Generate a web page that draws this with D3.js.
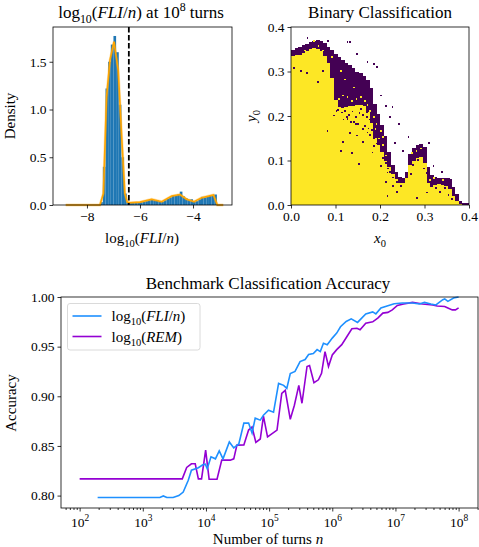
<!DOCTYPE html>
<html>
<head>
<meta charset="utf-8">
<script src="https://cdn.jsdelivr.net/npm/d3@7"></script>
<style>
  body { margin: 0; background: #fff; }
  svg, text, tspan { font-family: "Liberation Serif", serif; }
  .tick text { font-size: 13.5px; fill: #000; }
  .tick line { stroke: #000; stroke-width: 0.8; }
</style>
</head>
<body>
<div id="wrapper"></div>
<script>

// ---- data: histogram of log10(FLI/n) ----
const binWidth = 0.1
const binStarts = [-7.5, -7.4, -7.3, -7.2, -7.1, -7.0, -6.9, -6.8, -6.7, -6.6, -6.5,
  -6.4, -6.3, -6.2, -6.1, -6.0, -5.9, -5.8, -5.7, -5.6, -5.5, -5.4, -5.3, -5.2, -5.1,
  -5.0, -4.9, -4.8, -4.7, -4.6, -4.5, -4.4, -4.3, -4.2, -4.1, -4.0, -3.9, -3.8, -3.7,
  -3.6, -3.5, -3.4, -3.3, -3.2]
const binDensity = [0.03, 0.4, 1.22, 1.5, 1.68, 1.77, 1.6, 1.05, 0.5, 0.12, 0.03,
  0.03, 0.025, 0.025, 0.03, 0.03, 0.035, 0.04, 0.05, 0.055, 0.05, 0.05, 0.04, 0.035, 0.05,
  0.065, 0.08, 0.095, 0.1, 0.11, 0.14, 0.09, 0.07, 0.055, 0.06, 0.035, 0.04, 0.06, 0.085,
  0.08, 0.09, 0.095, 0.1, 0.11]
const kdeX = [-8.8, -7.51, -7.38, -7.26, -7.13, -6.98, -6.82, -6.69, -6.57, -6.48, -6.38,
  -6.0, -5.56, -5.18, -4.8, -4.49, -4.24, -3.96, -3.67, -3.23, -3.08, -2.86]
const kdeY = [0, 0, 0.12, 1.13, 1.52, 1.71, 1.41, 0.715, 0.12, 0.03, 0.024,
  0.03, 0.06, 0.035, 0.094, 0.11, 0.06, 0.035, 0.077, 0.105, 0, 0]
const threshold = -6.42
const histXTicks = [-8, -6, -4]
const histYTicks = [0, 0.5, 1.0, 1.5]

// ---- data: binary classification map (columns of width 0.008) ----
const colWidth = 0.008
const colX = [0.000, 0.008, 0.016, 0.024, 0.032, 0.040, 0.048, 0.056, 0.064, 0.072,
  0.080, 0.088, 0.096, 0.104, 0.112, 0.120, 0.128, 0.136, 0.144, 0.152,
  0.160, 0.168, 0.176, 0.184, 0.192, 0.200, 0.208, 0.216, 0.224, 0.232,
  0.240, 0.248, 0.256, 0.264, 0.272, 0.280, 0.288, 0.296, 0.304, 0.312,
  0.320, 0.328, 0.336, 0.344, 0.352, 0.360, 0.368, 0.376, 0.384, 0.392]
const stableTop = [0.334, 0.336, 0.338, 0.342, 0.346, 0.350, 0.352, 0.350, 0.345, 0.335,
  0.320, 0.285, 0.235, 0.220, 0.218, 0.220, 0.222, 0.222, 0.225, 0.225,
  0.222, 0.210, 0.185, 0.150, 0.135, 0.120, 0.100, 0.085, 0.070, 0.058,
  0.050, 0.050, 0.060, 0.090, 0.100, 0.105, 0.108, 0.095, 0.050, 0.040,
  0.045, 0.048, 0.045, 0.042, 0.035, 0.020, 0.010, 0.002, 0.000, 0.000]
const unstableTop = [0.348, 0.352, 0.356, 0.360, 0.362, 0.366, 0.368, 0.370, 0.368, 0.364,
  0.356, 0.348, 0.340, 0.332, 0.326, 0.320, 0.314, 0.308, 0.300, 0.296,
  0.290, 0.280, 0.262, 0.228, 0.205, 0.180, 0.155, 0.118, 0.090, 0.075,
  0.062, 0.060, 0.075, 0.115, 0.128, 0.135, 0.138, 0.130, 0.085, 0.068,
  0.063, 0.060, 0.060, 0.060, 0.058, 0.040, 0.024, 0.010, 0.004, 0.004]
const cell = 0.004
// stray unstable cells (inside the stable core, the mixed fringe and the empty region)
const strayX = [0.020, 0.034, 0.058, 0.095, 0.125, 0.147, 0.170, 0.181, 0.200, 0.215,
  0.267, 0.245, 0.304, 0.144, 0.110, 0.080, 0.005, 0.070, 0.100, 0.130, 0.160, 0.150,
  0.135, 0.185, 0.115, 0.212, 0.252, 0.282, 0.215,
  0.125, 0.131, 0.147, 0.170, 0.192, 0.185, 0.200, 0.212, 0.226, 0.231, 0.308, 0.338,
  0.353, 0.035, 0.082, 0.240, 0.262, 0.220, 0.250, 0.318,
  0.104, 0.112, 0.120, 0.128, 0.136, 0.144, 0.152, 0.160, 0.168, 0.176, 0.116, 0.132,
  0.148, 0.164, 0.172, 0.180, 0.188, 0.196, 0.184, 0.192, 0.200, 0.208, 0.204, 0.212,
  0.216, 0.176, 0.160, 0.140, 0.124, 0.156, 0.168, 0.184, 0.196, 0.204, 0.212, 0.220,
  0.228, 0.236, 0.264, 0.272, 0.284, 0.296, 0.304, 0.312, 0.324, 0.332, 0.344, 0.352,
  0.360, 0.236, 0.228]
const strayY = [0.300, 0.295, 0.274, 0.199, 0.191, 0.154, 0.161, 0.116, 0.086, 0.071,
  0.068, 0.041, 0.026, 0.180, 0.120, 0.165, 0.305, 0.300, 0.210, 0.160, 0.140, 0.090,
  0.115, 0.130, 0.140, 0.050, 0.056, 0.013, 0.019,
  0.364, 0.364, 0.338, 0.320, 0.308, 0.315, 0.244, 0.220, 0.218, 0.137, 0.137, 0.073,
  0.056, 0.374, 0.366, 0.180, 0.150, 0.195, 0.120, 0.085,
  0.212, 0.206, 0.210, 0.200, 0.208, 0.196, 0.204, 0.200, 0.196, 0.190, 0.190, 0.184,
  0.180, 0.176, 0.170, 0.166, 0.160, 0.150, 0.148, 0.136, 0.128, 0.120, 0.104, 0.092,
  0.080, 0.156, 0.168, 0.184, 0.196, 0.214, 0.206, 0.184, 0.172, 0.140, 0.112, 0.072,
  0.060, 0.050, 0.096, 0.088, 0.100, 0.080, 0.070, 0.048, 0.036, 0.028, 0.036, 0.020,
  0.012, 0.028, 0.040]
// stable cells scattered inside the unstable band
const speckX = [0.105, 0.115, 0.125, 0.135, 0.145, 0.110, 0.090, 0.060, 0.070, 0.030,
  0.155, 0.165, 0.170, 0.175, 0.185, 0.190, 0.200, 0.205, 0.270, 0.280, 0.290, 0.310,
  0.320, 0.340, 0.120, 0.140, 0.050, 0.188, 0.196, 0.204, 0.212]
const speckY = [0.236, 0.244, 0.240, 0.232, 0.236, 0.300, 0.330, 0.355, 0.345, 0.345,
  0.240, 0.232, 0.222, 0.210, 0.196, 0.180, 0.165, 0.150, 0.115, 0.120, 0.125, 0.055,
  0.058, 0.055, 0.280, 0.262, 0.366, 0.168, 0.148, 0.132, 0.110]
const heatTicks = [0.0, 0.1, 0.2, 0.3, 0.4]

// ---- data: benchmark accuracy vs turns (exponents of 10) ----
const fliExp = [2.285, 3.27, 3.325, 3.38, 3.48, 3.57, 3.64, 3.72, 3.77, 3.88, 3.95, 3.99,
  4.02, 4.08, 4.15, 4.21, 4.27, 4.37, 4.44, 4.52, 4.60, 4.675, 4.73, 4.78, 4.86, 4.91,
  4.99, 5.07, 5.15, 5.23, 5.28, 5.335, 5.41, 5.49, 5.57, 5.625, 5.70, 5.76, 5.81, 5.86,
  5.92, 6.0, 6.07, 6.13, 6.22, 6.30, 6.40, 6.53, 6.64, 6.69, 6.77, 6.88, 6.98, 7.11,
  7.27, 7.38, 7.46, 7.56, 7.64, 7.75, 7.78, 7.83, 7.92, 8.0]
const fliAcc = [0.798, 0.798, 0.7996, 0.798, 0.798, 0.800, 0.8036, 0.8155, 0.8256, 0.828, 0.831, 0.8316,
  0.827, 0.839, 0.837, 0.845, 0.837, 0.854, 0.848, 0.852, 0.873, 0.873, 0.863, 0.878, 0.876, 0.881,
  0.886, 0.884, 0.913, 0.911, 0.908, 0.923, 0.925, 0.935, 0.937, 0.942, 0.943, 0.947, 0.945, 0.9535,
  0.952, 0.9586, 0.9636, 0.970, 0.9754, 0.978, 0.9744, 0.983, 0.985, 0.983, 0.9889, 0.9912, 0.9932, 0.994,
  0.994, 0.993, 0.9946, 0.993, 0.992, 0.9973, 0.998, 0.9956, 0.999, 1.0]
const remExp = [2.0, 3.625, 3.695, 3.77, 3.83, 3.88, 3.93, 3.995, 4.05, 4.175, 4.25, 4.385,
  4.44, 4.49, 4.60, 4.675, 4.73, 4.79, 4.86, 4.91, 4.975, 5.125, 5.20, 5.255, 5.335, 5.40,
  5.47, 5.52, 5.60, 5.64, 5.71, 5.78, 5.83, 5.885, 5.94, 6.00, 6.07, 6.15, 6.23, 6.31,
  6.39, 6.44, 6.53, 6.64, 6.72, 6.80, 6.88, 6.95, 7.03, 7.13, 7.27, 7.43, 7.59, 7.66,
  7.78, 7.83, 7.9, 7.95, 8.0]
const remAcc = [0.8168, 0.8168, 0.8283, 0.832, 0.832, 0.8168, 0.8168, 0.8458, 0.8165, 0.8165, 0.8357, 0.8357,
  0.837, 0.8508, 0.851, 0.866, 0.869, 0.8535, 0.857, 0.880, 0.8592, 0.866, 0.903, 0.906, 0.8768, 0.891,
  0.911, 0.893, 0.930, 0.931, 0.9137, 0.9166, 0.9232, 0.945, 0.930, 0.9417, 0.947, 0.952, 0.960, 0.968,
  0.9685, 0.967, 0.9737, 0.975, 0.9788, 0.9838, 0.9845, 0.987, 0.9915, 0.993, 0.9946, 0.993, 0.992, 0.991,
  0.9905, 0.989, 0.987, 0.987, 0.989]
const accTicks = [0.80, 0.85, 0.90, 0.95, 1.00]
const decadeTicks = [2, 3, 4, 5, 6, 7, 8]

const viridisLow = "#440154"
const viridisHigh = "#fde725"

// ---- helpers ----
const svg = d3.select("#wrapper").append("svg")
    .attr("width", 479)
    .attr("height", 547)

// writes mathtext-like parts into a text element
function rich(text, parts, size) {
  let shift = 0
  parts.forEach(p => {
    const target = p.sub ? 0.28 * size : p.sup ? -0.42 * size : 0
    const ts = text.append("tspan").text(p.t).attr("dy", target - shift)
    shift = target
    if (p.sub || p.sup) ts.attr("font-size", size * 0.7)
    if (p.i) ts.attr("font-style", "italic")
  })
  return text
}
const logFli = [{t: "log"}, {t: "10", sub: 1}, {t: "("}, {t: "FLI", i: 1}, {t: "/"}, {t: "n", i: 1}, {t: ")"}]
const logRem = [{t: "log"}, {t: "10", sub: 1}, {t: "("}, {t: "REM", i: 1}, {t: ")"}]

function label(x, y, parts, size, rotate) {
  const t = svg.append("text")
      .attr("text-anchor", "middle")
      .attr("font-size", size)
      .attr("transform", `translate(${x},${y})` + (rotate ? " rotate(-90)" : ""))
  return rich(t, parts, size)
}

function frame(box) {
  svg.append("rect")
      .attr("x", box.left).attr("y", box.top)
      .attr("width", box.right - box.left).attr("height", box.bottom - box.top)
      .attr("fill", "none").attr("stroke", "#000").attr("stroke-width", 0.8)
}

function styleAxis(g) {
  g.attr("font-family", null).attr("font-size", null)
  g.select(".domain").remove()
}

const fmtMinus = d => d3.format(".1f")(d).replace("-", "\u2212")

// ---- panel 1: histogram ----
const hBox = {left: 53, right: 232, top: 27, bottom: 205}
const hx = d3.scaleLinear().domain([-9.28, -2.53]).range([hBox.left, hBox.right])
const hy = d3.scaleLinear().domain([0, 1.864]).range([hBox.bottom, hBox.top])

svg.append("g").selectAll("rect")
    .data(binStarts)
  .enter().append("rect")
    .attr("x", d => hx(d))
    .attr("width", d => hx(d + binWidth) - hx(d))
    .attr("y", (d, i) => hy(binDensity[i]))
    .attr("height", (d, i) => hy(0) - hy(binDensity[i]))
    .attr("fill", "#1f77b4")

const kde = d3.line().x(d => hx(d[0])).y(d => hy(d[1]))
const kdePts = kdeX.map((x, i) => [x, kdeY[i]])
svg.append("path").attr("d", kde(kdePts))
    .attr("fill", "none").attr("stroke", "#ffa500").attr("stroke-width", 2.8).attr("opacity", 0.3)
svg.append("path").attr("d", kde(kdePts))
    .attr("fill", "none").attr("stroke", "#ffa500").attr("stroke-width", 1.6)

svg.append("line")
    .attr("x1", hx(threshold)).attr("x2", hx(threshold))
    .attr("y1", hBox.top).attr("y2", hBox.bottom)
    .attr("stroke", "#000").attr("stroke-width", 1.8).attr("stroke-dasharray", "5.5,2.5")

svg.append("g").attr("transform", `translate(0,${hBox.bottom})`)
    .call(d3.axisBottom(hx).tickValues(histXTicks).tickSize(3.5).tickPadding(3)
      .tickFormat(d => String(d).replace("-", "\u2212")))
    .call(styleAxis)
svg.append("g").attr("transform", `translate(${hBox.left},0)`)
    .call(d3.axisLeft(hy).tickValues(histYTicks).tickSize(3.5).tickPadding(3).tickFormat(fmtMinus))
    .call(styleAxis)
frame(hBox)

label(141, 18, logFli.concat([{t: " at 10"}, {t: "8", sup: 1}, {t: " turns"}]), 17)
label(142, 243, logFli, 15)
label(15, 116, [{t: "Density"}], 15, true)

// ---- panel 2: binary classification ----
const cBox = {left: 291, right: 469, top: 27, bottom: 205}
const cx = d3.scaleLinear().domain([0, 0.4]).range([cBox.left, cBox.right])
const cy = d3.scaleLinear().domain([0, 0.4]).range([cBox.bottom, cBox.top])

const heat = svg.append("g").attr("shape-rendering", "crispEdges")
heat.selectAll(".unstable")
    .data(colX)
  .enter().append("rect")
    .attr("class", "unstable")
    .attr("x", d => cx(d))
    .attr("width", d => cx(d + colWidth) - cx(d) + 0.3)
    .attr("y", (d, i) => cy(unstableTop[i]))
    .attr("height", (d, i) => cy(stableTop[i]) - cy(unstableTop[i]))
    .attr("fill", viridisLow)
heat.selectAll(".stable")
    .data(colX)
  .enter().append("rect")
    .attr("class", "stable")
    .attr("x", d => cx(d))
    .attr("width", d => cx(d + colWidth) - cx(d) + 0.3)
    .attr("y", (d, i) => cy(stableTop[i]))
    .attr("height", (d, i) => cy(0) - cy(stableTop[i]))
    .attr("fill", viridisHigh)
heat.selectAll(".speck")
    .data(speckX)
  .enter().append("rect")
    .attr("class", "speck")
    .attr("x", d => cx(d))
    .attr("width", cx(cell) - cx(0))
    .attr("y", (d, i) => cy(speckY[i] + cell))
    .attr("height", cy(0) - cy(cell))
    .attr("fill", viridisHigh)
heat.selectAll(".stray")
    .data(strayX)
  .enter().append("rect")
    .attr("class", "stray")
    .attr("x", d => cx(d))
    .attr("width", cx(cell) - cx(0))
    .attr("y", (d, i) => cy(strayY[i] + cell))
    .attr("height", cy(0) - cy(cell))
    .attr("fill", viridisLow)

svg.append("g").attr("transform", `translate(0,${cBox.bottom})`)
    .call(d3.axisBottom(cx).tickValues(heatTicks).tickSize(3.5).tickPadding(3).tickFormat(d3.format(".1f")))
    .call(styleAxis)
svg.append("g").attr("transform", `translate(${cBox.left},0)`)
    .call(d3.axisLeft(cy).tickValues(heatTicks).tickSize(3.5).tickPadding(3).tickFormat(d3.format(".1f")))
    .call(styleAxis)
frame(cBox)

label(380, 18, [{t: "Binary Classification"}], 17)
label(380, 243, [{t: "x", i: 1}, {t: "0", sub: 1}], 15)
label(256, 116, [{t: "y", i: 1}, {t: "0", sub: 1}], 15, true)

// ---- panel 3: accuracy vs turns ----
const aBox = {left: 61, right: 478, top: 297, bottom: 508}
const ax = d3.scaleLog().domain([Math.pow(10, 1.705), Math.pow(10, 8.307)]).range([aBox.left, aBox.right])
const ay = d3.scaleLinear().domain([0.7875, 1.0]).range([aBox.bottom, aBox.top])

const accLine = d3.line().x(d => ax(Math.pow(10, d[0]))).y(d => ay(d[1]))
svg.append("path")
    .attr("d", accLine(remExp.map((e, i) => [e, remAcc[i]])))
    .attr("fill", "none").attr("stroke", "#9400d3").attr("stroke-width", 1.6)
svg.append("path")
    .attr("d", accLine(fliExp.map((e, i) => [e, fliAcc[i]])))
    .attr("fill", "none").attr("stroke", "#1e90ff").attr("stroke-width", 1.6)

const minorTicks = []
d3.range(1, 9).forEach(dec => d3.range(2, 10).forEach(k => {
  const v = k * Math.pow(10, dec)
  if (v > ax.domain()[0] && v < ax.domain()[1]) minorTicks.push(v)
}))
svg.append("g").attr("transform", `translate(0,${aBox.bottom})`)
    .call(d3.axisBottom(ax).tickValues(minorTicks).tickSize(2).tickFormat(""))
    .call(styleAxis)
const xMajor = svg.append("g").attr("transform", `translate(0,${aBox.bottom})`)
    .call(d3.axisBottom(ax).tickValues(decadeTicks.map(e => Math.pow(10, e))).tickSize(3.5).tickPadding(3).tickFormat(""))
    .call(styleAxis)
xMajor.selectAll(".tick").append("text")
    .attr("y", 19).attr("text-anchor", "middle").attr("font-size", 13.5)
    .each(function(d) {
      rich(d3.select(this), [{t: "10"}, {t: String(Math.round(Math.log10(d))), sup: 1}], 13.5)
    })
svg.append("g").attr("transform", `translate(${aBox.left},0)`)
    .call(d3.axisLeft(ay).tickValues(accTicks).tickSize(3.5).tickPadding(3).tickFormat(d3.format(".2f")))
    .call(styleAxis)
frame(aBox)

label(268, 289, [{t: "Benchmark Classification Accuracy"}], 17)
label(268, 544, [{t: "Number of turns "}, {t: "n", i: 1}], 15)
label(16, 403, [{t: "Accuracy"}], 15, true)

// legend
const legend = svg.append("g")
legend.append("rect")
    .attr("x", 67.5).attr("y", 303.5).attr("width", 132.5).attr("height", 46.5)
    .attr("rx", 2.5).attr("fill", "#fff").attr("fill-opacity", 0.8)
    .attr("stroke", "#d0d0d0").attr("stroke-width", 0.8)
const legendItems = [{parts: logFli, color: "#1e90ff"}, {parts: logRem, color: "#9400d3"}]
legendItems.forEach((item, i) => {
  const y = 316 + i * 20.5
  legend.append("line")
      .attr("x1", 72.5).attr("x2", 101.5).attr("y1", y).attr("y2", y)
      .attr("stroke", item.color).attr("stroke-width", 1.6)
  const t = legend.append("text")
      .attr("x", 111.5).attr("y", y + 5).attr("font-size", 15)
  rich(t, item.parts, 15)
})
</script>
</body>
</html>
